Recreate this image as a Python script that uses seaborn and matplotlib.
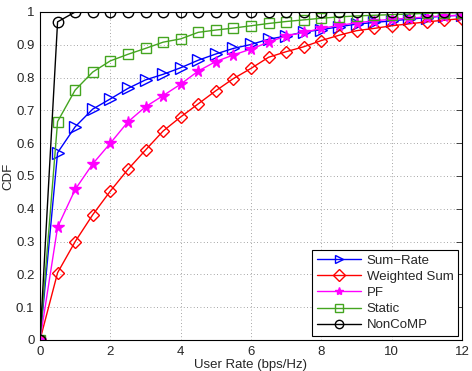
import numpy as np
import pandas as pd
import matplotlib
matplotlib.use("Agg")
import matplotlib.pyplot as plt
import seaborn as sns

x_rate = [0, 0.5, 1, 1.5, 2, 2.5, 3, 3.5, 4, 4.5, 5, 5.5, 6,
          6.5, 7, 7.5, 8, 8.5, 9, 9.5, 10, 10.5, 11, 11.5, 12]

sum_rate = [0, 0.571, 0.65, 0.704, 0.735, 0.767, 0.793, 0.81, 0.83, 0.853, 0.872, 0.889, 0.901,
            0.917, 0.927, 0.939, 0.946, 0.955, 0.963, 0.968, 0.973, 0.978, 0.983, 0.988, 0.99]
weighted_sum = [0, 0.205, 0.30, 0.382, 0.454, 0.52, 0.579, 0.637, 0.68, 0.72, 0.76, 0.797, 0.828,
                0.862, 0.879, 0.894, 0.913, 0.929, 0.943, 0.95, 0.958, 0.964, 0.97, 0.975, 0.98]
pf = [0, 0.344, 0.459, 0.537, 0.60, 0.665, 0.711, 0.745, 0.78, 0.82, 0.849, 0.869, 0.887,
      0.908, 0.927, 0.938, 0.95, 0.959, 0.967, 0.973, 0.978, 0.981, 0.985, 0.988, 0.99]
static = [0, 0.666, 0.762, 0.817, 0.851, 0.871, 0.889, 0.908, 0.918, 0.938, 0.945, 0.951, 0.958,
          0.965, 0.971, 0.976, 0.981, 0.985, 0.988, 0.99, 0.992, 0.994, 0.996, 0.997, 0.998]
noncomp = [0, 0.97, 1, 1, 1, 1, 1, 1, 1, 1, 1, 1, 1,
           1, 1, 1, 1, 1, 1, 1, 1, 1, 1, 1, 1]

series_names = ["Sum\u2212Rate", "Weighted Sum", "PF", "Static", "NonCoMP"]
series_values = [sum_rate, weighted_sum, pf, static, noncomp]
colors = ["#0000ff", "#ff0000", "#ff00ff", "#44a520", "#000000"]
markers = [">", "D", "*", "s", "o"]
msizes = [8, 6.5, 8.5, 6.5, 7.5]
filled = [False, False, True, False, False]

sns.set_style("white")
plt.rcParams['font.family'] = ['Liberation Sans', 'DejaVu Sans']

fig = plt.figure(figsize=(4.72, 3.71), dpi=100)
ax = fig.add_axes([40/472, 1-340/371, 422/472, 328/371])

for name, vals, c, m, ms, f in zip(series_names, series_values, colors, markers, msizes, filled):
    df = pd.DataFrame({"x": x_rate, "y": vals})
    sns.lineplot(data=df, x="x", y="y", ax=ax, color=c, marker=m, markersize=ms,
                 markerfacecolor=(c if f else "none"), markeredgecolor=c, markeredgewidth=1.0,
                 linewidth=1.0, label=name)

ax.set_xlim(0, 12)
ax.set_ylim(0, 1)
ax.set_xticks(np.arange(0, 13, 2))
ax.set_yticks(np.round(np.arange(0, 1.01, 0.1), 1))
ax.set_yticklabels(["0", "0.1", "0.2", "0.3", "0.4", "0.5", "0.6", "0.7", "0.8", "0.9", "1"])
ax.grid(True, linestyle=(0, (1, 3)), color="#888888", linewidth=0.6)
ax.tick_params(direction="in", top=True, right=True, labelsize=9.5, length=4, width=0.6)
ax.tick_params(axis="y", pad=4)
ax.tick_params(axis="x", pad=4)
for s in ax.spines.values():
    s.set_color("black")
    s.set_linewidth(0.8)
ax.set_xlabel("User Rate (bps/Hz)", fontsize=9.5, labelpad=1)
ax.set_ylabel("CDF", fontsize=9.5, labelpad=1)

leg = ax.legend(loc="lower right", fontsize=9.5, frameon=True, fancybox=False,
                edgecolor="black", framealpha=1, borderaxespad=0.3,
                handlelength=3.4, labelspacing=0.3, borderpad=0.35, handletextpad=0.4)
leg.get_frame().set_linewidth(0.8)
for h in leg.legend_handles:
    h.set_markersize(6)

fig.savefig("out.png", dpi=100)
